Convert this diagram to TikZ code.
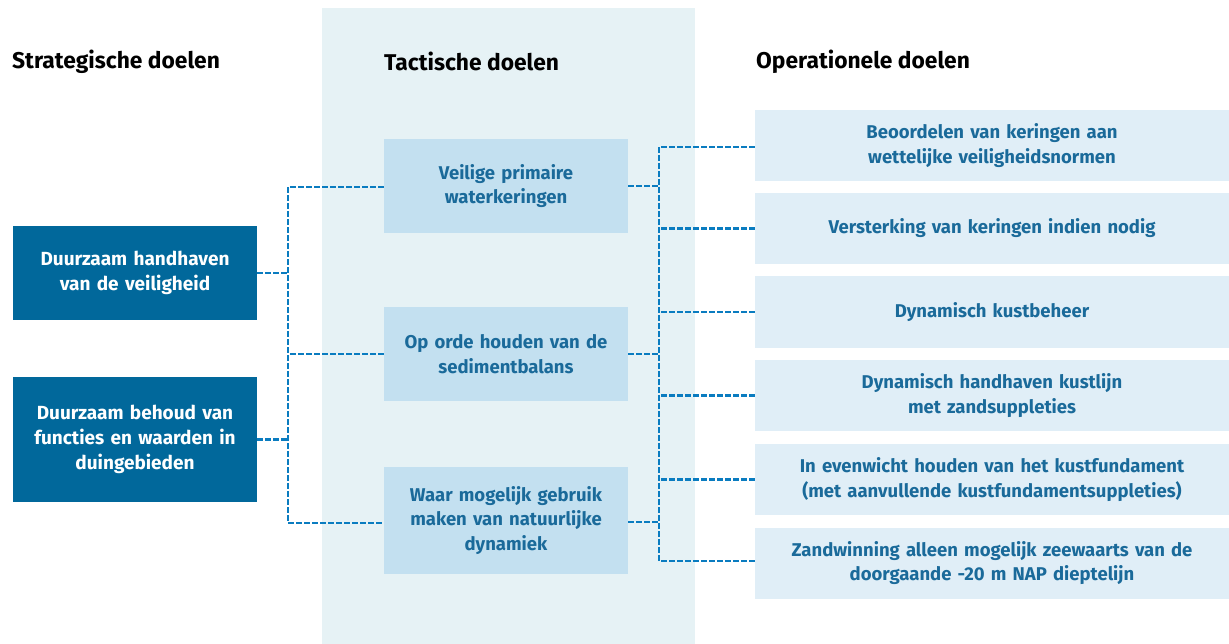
\documentclass[tikz,border=0pt]{standalone}
\usepackage{fontspec}
\setmainfont{Fira Sans}
\definecolor{darkbox}{HTML}{01689B}
\definecolor{tacbox}{HTML}{C3E0F0}
\definecolor{opbox}{HTML}{E0EEF7}
\definecolor{colbg}{HTML}{E6F2F5}
\definecolor{txtblue}{HTML}{1A6A9A}
\definecolor{dashblue}{HTML}{0A7CC0}
\begin{document}
\begin{tikzpicture}[x=1pt,y=-1pt,
  stratbox/.style={fill=darkbox,text=white,font=\fontsize{19}{25}\selectfont\bfseries,align=center,inner sep=0pt,minimum width=244pt,text width=236pt},
  tacbox/.style={fill=tacbox,text=txtblue,font=\fontsize{18.5}{24.5}\selectfont\bfseries,align=center,inner sep=0pt,minimum width=244pt,text width=236pt},
  opbox/.style={fill=opbox,text=txtblue,font=\fontsize{18.5}{24.5}\selectfont\bfseries,align=center,inner sep=0pt,minimum width=474pt,minimum height=71pt,text width=466pt},
  header/.style={font=\fontsize{22.8}{26}\selectfont\bfseries,anchor=west,inner sep=0pt},
  link/.style={draw=dashblue,line width=2.8pt,dash pattern=on 5.5pt off 2.5pt}]
\useasboundingbox (0,0) rectangle (1229,644);
\fill[colbg] (322,8) rectangle (695,644);
\node[header] (h1) at (12,61.5) {Strategische doelen};
\node[header] (h2) at (384,61.5) {Tactische doelen};
\node[header] (h3) at (756,61.5) {Operationele doelen};
% strategic
\node[stratbox,minimum height=94pt] (s1) at (135,273) {Duurzaam handhaven\\van de veiligheid};
\node[stratbox,minimum height=125pt] (s2) at (135,439.5) {Duurzaam behoud van\\functies en waarden in\\duingebieden};
% tactical
\node[tacbox,minimum height=94pt] (t1) at (506,186) {Veilige primaire\\waterkeringen};
\node[tacbox,minimum height=94pt] (t2) at (506,354) {Op orde houden van de\\sedimentbalans};
\node[tacbox,minimum height=107pt] (t3) at (506,520.5) {Waar mogelijk gebruik\\maken van natuurlijke\\dynamiek};
% operational
\node[opbox] (o1) at (992,145.5) {Beoordelen van keringen aan\\wettelijke veiligheidsnormen};
\node[opbox] (o2) at (992,228.5) {Versterking van keringen indien nodig};
\node[opbox] (o3) at (992,312) {Dynamisch kustbeheer};
\node[opbox] (o4) at (992,395.5) {Dynamisch handhaven kustlijn\\met zandsuppleties};
\node[opbox] (o5) at (992,479.5) {In evenwicht houden van het kustfundament\\(met aanvullende kustfundamentsuppleties)};
\node[opbox] (o6) at (992,563) {Zandwinning alleen mogelijk zeewaarts van de\\doorgaande -20 m NAP dieptelijn};
% left connectors
\coordinate (la) at (288,187);
\coordinate (lb) at (288,523);
\draw[link] (s1.east) -- (s1.east -| la);
\draw[link] (s2.east) -- (s2.east -| la);
\draw[link] (t1.west |- la) -- (la) -- (lb) -- (t3.west |- lb);
\draw[link] (t2.west) -- (t2.west -| la);
% right connectors
\coordinate (ra) at (659,147);
\coordinate (rb) at (659,561);
\draw[link] (t1.east) -- (t1.east -| ra);
\draw[link] (t2.east) -- (t2.east -| ra);
\draw[link] (t3.east |- 0,522) -- (659,522);
\draw[link] (o1.west |- ra) -- (ra) -- (rb) -- (o6.west |- rb);
\draw[link] (o2.west) -- (o2.west -| ra);
\draw[link] (o3.west) -- (o3.west -| ra);
\draw[link] (o4.west) -- (o4.west -| ra);
\draw[link] (o5.west) -- (o5.west -| ra);
\end{tikzpicture}
\end{document}
